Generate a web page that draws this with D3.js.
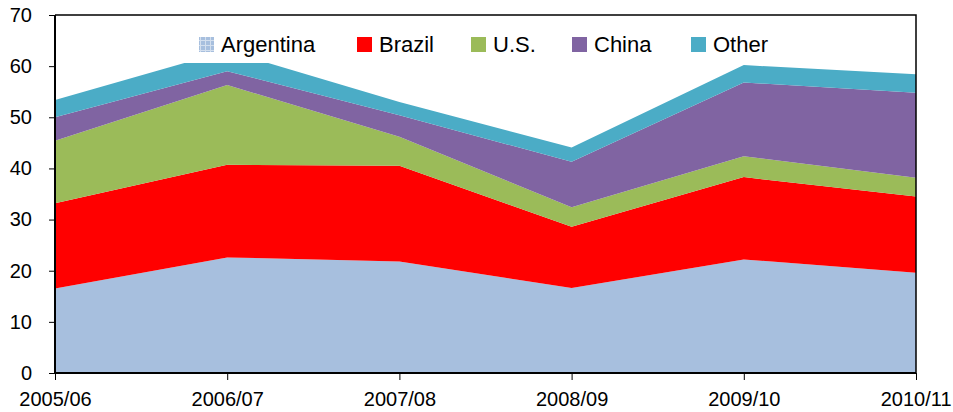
<!DOCTYPE html>
<html><head><meta charset="utf-8">
<script src="https://cdn.jsdelivr.net/npm/d3@7"></script>
<style>body{margin:0;background:#fff}svg{display:block}</style>
</head><body>
<script>
const categories = ["2005/06","2006/07","2007/08","2008/09","2009/10","2010/11"];
const argentina = [16.5, 22.6, 21.8, 16.6, 22.2, 19.6];
const brazil    = [16.7, 18.1, 18.7, 12.0, 16.1, 14.9];
const us        = [12.2, 15.6, 5.7, 3.8, 4.1, 3.7];
const china     = [4.6, 2.7, 4.2, 8.9, 14.4, 16.6];
const other     = [3.4, 4.0, 2.6, 2.8, 3.4, 3.6];
const seriesNames = ["Argentina","Brazil","U.S.","China","Other"];
const yTicks = [0,10,20,30,40,50,60,70];

const colors = ["#A7BFDE","#FF0000","#9BBB59","#8064A2","#4BACC6"];
const W = 953, H = 412;
const m = {l:55, r:37, t:15, b:39};
const FONT = "Liberation Sans, Arial, sans-serif";
const svg = d3.select("body").append("svg").attr("width",W).attr("height",H);
const defs = svg.append("defs");
const pat = defs.append("pattern").attr("id","grid").attr("width",5).attr("height",5).attr("patternUnits","userSpaceOnUse");
pat.append("rect").attr("width",5).attr("height",5).attr("fill","#A7BFDE");
pat.append("path").attr("d","M0,0.5H5M0.5,0V5").attr("stroke","#D3DFEE").attr("stroke-width",1);

const x = d3.scalePoint().domain(categories).range([m.l, W-m.r]);
const y = d3.scaleLinear().domain([0,70]).range([H-m.b, m.t]);

const rows = categories.map((c,i)=>({cat:c,"Argentina":argentina[i],"Brazil":brazil[i],"U.S.":us[i],"China":china[i],"Other":other[i]}));
const stack = d3.stack().keys(seriesNames)(rows);
const area = d3.area().x(d=>x(d.data.cat)).y0(d=>y(d[0])).y1(d=>y(d[1]));
svg.append("g").selectAll("path").data(stack).join("path")
  .attr("d",area).attr("fill",(d,i)=>colors[i]);

// legend background
const legend = svg.append("g");
legend.append("rect").attr("x",184).attr("y",26).attr("width",604).attr("height",37).attr("fill","#fff");
const lx = [199, 357, 471, 572, 691];
seriesNames.forEach((n,i)=>{
  legend.append("rect").attr("x",lx[i]).attr("y",37).attr("width",15).attr("height",15)
    .attr("fill", i===0 ? "url(#grid)" : colors[i]);
  legend.append("text").attr("x",lx[i]+22).attr("y",52).text(n)
    .attr("font-family",FONT).attr("font-size",22).attr("fill","#000");
});

// frame
svg.append("path").attr("d",`M${m.l},${m.t}H${W-m.r}V${H-m.b}`).attr("fill","none").attr("stroke","#000").attr("stroke-width",1.5);

const yAxis = svg.append("g").attr("transform",`translate(${m.l},0)`)
  .call(d3.axisLeft(y).tickValues(yTicks).tickSize(6).tickPadding(17).tickFormat(d3.format("d")));
const xAxis = svg.append("g").attr("transform",`translate(0,${H-m.b})`)
  .call(d3.axisBottom(x).tickSize(7).tickPadding(12));
[yAxis,xAxis].forEach(a=>{
  a.select(".domain").attr("stroke","#000").attr("stroke-width",2);
  a.selectAll(".tick line").attr("stroke","#000").attr("stroke-width",1);
  a.selectAll("text").attr("font-family",FONT).attr("font-size",20).attr("fill","#000");
});
xAxis.selectAll(".tick text").filter(d=>d===categories[categories.length-1])
  .attr("text-anchor","end").attr("x",35);
xAxis.select(".domain").attr("d",`M${m.l},0H${W-m.r}`);
yAxis.select(".domain").attr("d",`M0,${H-m.b}V${m.t}`);
</script>
</body></html>
